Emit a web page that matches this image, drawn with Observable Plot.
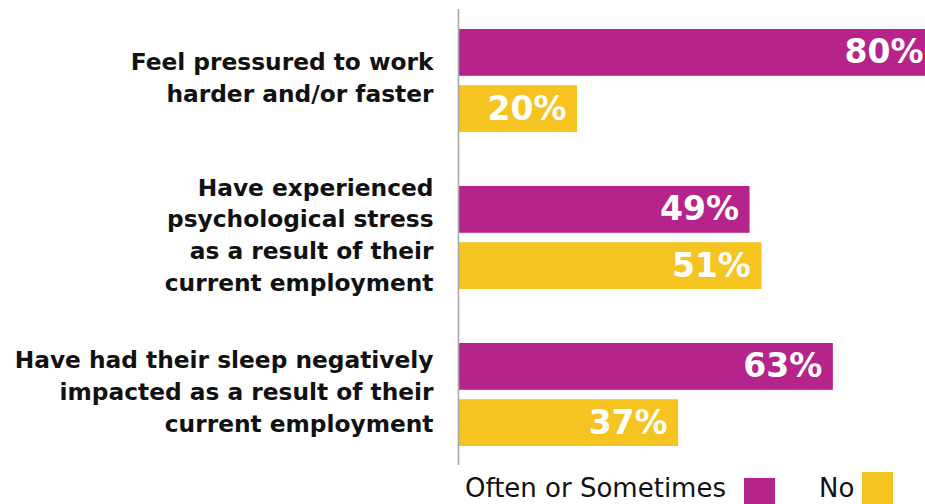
<!DOCTYPE html>
<html>
<head>
<meta charset="utf-8">
<script src="https://cdn.jsdelivr.net/npm/d3@7"></script>
<script src="https://cdn.jsdelivr.net/npm/@observablehq/plot@0.6"></script>
<style>
  html, body { margin: 0; padding: 0; background: #fff; overflow: hidden; }
  #chart svg { overflow: hidden; display: block; }
  #legend { position: relative; width: 925px; height: 38px; font-family: "DejaVu Sans", sans-serif; font-size: 26px; line-height: 1; color: #111; overflow: hidden; }
  #legend span.t { position: absolute; white-space: nowrap; top: 9px; }
  #legend span.s { position: absolute; width: 31px; height: 34px; }
</style>
</head>
<body>
<div id="chart"></div>
<div id="legend"></div>
<script>
const questions = [
  "Feel pressured to work\nharder and/or faster",
  "Have experienced\npsychological stress\nas a result of their\ncurrent employment",
  "Have had their sleep negatively\nimpacted as a result of their\ncurrent employment"
];
const oftenValues = [80, 49, 63];
const noValues = [20, 51, 37];
const seriesNames = ["Often or Sometimes", "No"];
const seriesColors = ["#B5238B", "#F5C421"];

const often = questions.map((q, i) => ({question: q, value: oftenValues[i]}));
const no = questions.map((q, i) => ({question: q, value: noValues[i]}));

const inset = 56.2;
const off = 28.1;

const chart = Plot.plot({
  width: 925,
  height: 466,
  marginTop: 9,
  marginBottom: 1,
  marginLeft: 458,
  marginRight: 0,
  x: {domain: [0, 100], range: [458, 1053], axis: null},
  y: {domain: questions, paddingInner: 0.345, paddingOuter: 0.12, axis: null},
  style: {fontFamily: "'DejaVu Sans', sans-serif", background: "#fff"},
  marks: [
    Plot.barX(often, {y: "question", x: "value", fill: seriesColors[0], insetBottom: inset}),
    Plot.barX(no, {y: "question", x: "value", fill: seriesColors[1], insetTop: inset}),
    Plot.ruleX([0], {stroke: "#a8a8a8", strokeWidth: 1.6}),
    Plot.text(often, {y: "question", x: "value", text: d => d.value + "%", textAnchor: "end", dx: -11, dy: -off, fill: "#fff", fontSize: 33, fontWeight: 700}),
    Plot.text(no, {y: "question", x: "value", text: d => d.value + "%", textAnchor: "end", dx: -11, dy: off, fill: "#fff", fontSize: 33, fontWeight: 700}),
    Plot.text(questions, {y: d => d, text: d => d, frameAnchor: "left", textAnchor: "end", dx: -25, dy: -5, fontSize: 23.3, fontWeight: 700, fill: "#111", lineHeight: 1.36})
  ]
});
document.getElementById("chart").appendChild(chart);

const legend = document.getElementById("legend");
const items = [
  {text: seriesNames[0], tx: 465, sx: 744, sy: 11.7, color: seriesColors[0]},
  {text: seriesNames[1], tx: 819, sx: 862, sy: 5.7, color: seriesColors[1]}
];
for (const it of items) {
  const t = document.createElement("span");
  t.className = "t"; t.textContent = it.text; t.style.left = it.tx + "px";
  legend.appendChild(t);
  const s = document.createElement("span");
  s.className = "s"; s.style.left = it.sx + "px"; s.style.top = it.sy + "px"; s.style.background = it.color;
  legend.appendChild(s);
}
</script>
</body>
</html>
